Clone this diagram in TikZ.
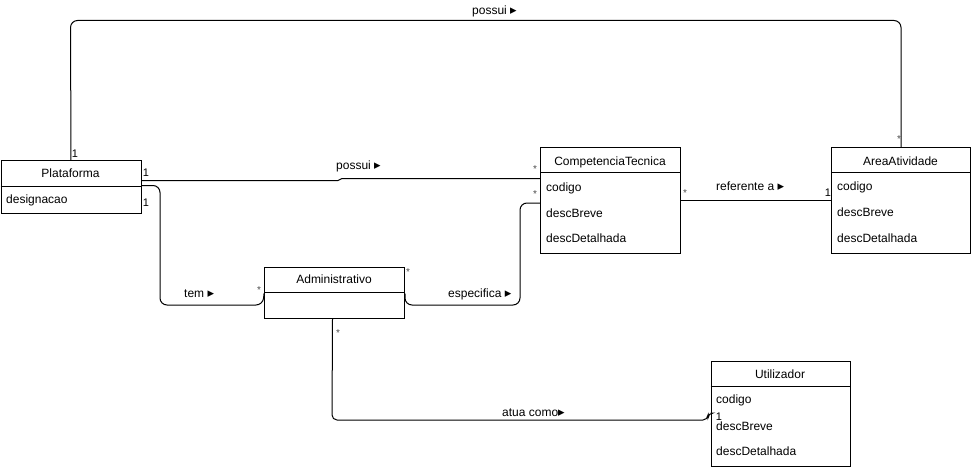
\documentclass[tikz,border=0pt]{standalone}
\usepackage{fontspec}
\setmainfont{Liberation Sans}
\newfontfamily\symfont{DejaVu Sans}
\newcommand{\dirtri}{{\symfont\fontsize{13}{14}\selectfont ▸}}
\begin{document}
\begin{tikzpicture}[x=1pt,y=-1pt,
  font=\fontsize{12}{14}\selectfont,
  classbox/.style={draw,line width=1pt,fill=white,anchor=north west,inner sep=0pt},
  divider/.style={line width=1pt},
  assoc/.style={draw,line width=1pt,rounded corners=7pt},
  ctitle/.style={anchor=base,inner sep=0pt},
  attr/.style={anchor=base west,inner sep=0pt},
  lbl/.style={anchor=base west,inner sep=0pt},
  mult/.style={inner sep=0pt,font=\fontsize{11}{12}\selectfont},
  star/.style={inner sep=0pt,font=\fontsize{10}{12}\selectfont,text=black!70}]
\useasboundingbox (0,0) rectangle (972,468);

% ---- classes ----
\node[classbox,minimum width=140pt,minimum height=52pt] (plat) at (0.5,160.5) {};
\draw[divider] ([yshift=-25.5pt]plat.north west) -- ([yshift=-25.5pt]plat.north east);
\node[ctitle] (platT) at (70.5,177) {Plataforma};
\node[attr] (platA1) at (6,204) {designacao};

\node[classbox,minimum width=140pt,minimum height=106pt] (ct) at (540,147) {};
\draw[divider] ([yshift=-26pt]ct.north west) -- ([yshift=-26pt]ct.north east);
\node[ctitle] (ctT) at (610,165) {CompetenciaTecnica};
\node[attr] (ctA1) at (546,191) {codigo};
\node[attr] (ctA2) at (546,217) {descBreve};
\node[attr] (ctA3) at (546,242.5) {descDetalhada};

\node[classbox,minimum width=139pt,minimum height=106pt] (area) at (831,147) {};
\draw[divider] ([yshift=-26pt]area.north west) -- ([yshift=-26pt]area.north east);
\node[ctitle] (areaT) at (900.5,165) {AreaAtividade};
\node[attr] (areaA1) at (837,190.5) {codigo};
\node[attr] (areaA2) at (837,216.5) {descBreve};
\node[attr] (areaA3) at (837,242) {descDetalhada};

\node[classbox,minimum width=140pt,minimum height=51.5pt] (adm) at (264,266.5) {};
\draw[divider] ([yshift=-26pt]adm.north west) -- ([yshift=-26pt]adm.north east);
\node[ctitle] (admT) at (334,283.5) {Administrativo};

\node[classbox,minimum width=139.5pt,minimum height=105pt] (util) at (710.5,361) {};
\draw[divider] ([yshift=-25pt]util.north west) -- ([yshift=-25pt]util.north east);
\node[ctitle] (utilT) at (780,378) {Utilizador};
\node[attr] (utilA1) at (716,403) {codigo};
\node[attr] (utilA2) at (716,430) {descBreve};
\node[attr] (utilA3) at (716,455) {descDetalhada};

% ---- associations ----
% Plataforma possui AreaAtividade
\draw[assoc] (plat.north) -- (70.5,20.5) -| (area.north);
\node[lbl] (l1) at (472,15) {possui \dirtri};
\node[mult] (m1a) at (75,154) {1};
\node[star] (m1b) at (899,139.5) {*};

% Plataforma possui CompetenciaTecnica
\draw[line width=1pt] ([yshift=-20pt]plat.north east) -- (338,180.5) -- (342,178.5) -- ([yshift=-31.5pt]ct.north west);
\node[lbl] (l2) at (336,170) {possui \dirtri};
\node[mult] (m2a) at (146,173) {1};
\node[star] (m2b) at (535,169.5) {*};

% Plataforma tem Administrativo
\draw[assoc] ([yshift=-25pt]plat.north east) -- (160,185.5) -- (160,305) -- (263,305) -- ([yshift=-27pt]adm.north west);
\node[lbl] (l3) at (184,297) {tem \dirtri};
\node[mult] (m3a) at (146,203) {1};
\node[star] (m3b) at (259,290.5) {*};

% Administrativo especifica CompetenciaTecnica
\draw[assoc] ([yshift=-27pt]adm.north east) -- (405,305) -- (520,305) -- (520,203) -- ([yshift=-56pt]ct.north west);
\node[lbl] (l4) at (448,297) {especifica \dirtri};
\node[star] (m4a) at (408,272.5) {*};
\node[star] (m4b) at (535,194.5) {*};

% CompetenciaTecnica referente a AreaAtividade
\draw[line width=1pt] ([yshift=-53.5pt]ct.north east) -- ([yshift=-53.5pt]area.north west);
\node[lbl] (l5) at (716,190) {referente a \dirtri};
\node[star] (m5a) at (685,193.5) {*};
\node[mult] (m5b) at (828,193) {1};

% Administrativo atua como Utilizador
\draw[assoc,rounded corners=5pt] ([xshift=-2pt]adm.south) -- (332,420) -- (708,420) -- (708,413) -- ([yshift=-52pt]util.north west);
\node[lbl] (l6) at (502,416) {atua como\dirtri};
\node[star] (m6a) at (338,333.5) {*};
\node[mult] (m6b) at (719,416.5) {1};
\end{tikzpicture}
\end{document}
